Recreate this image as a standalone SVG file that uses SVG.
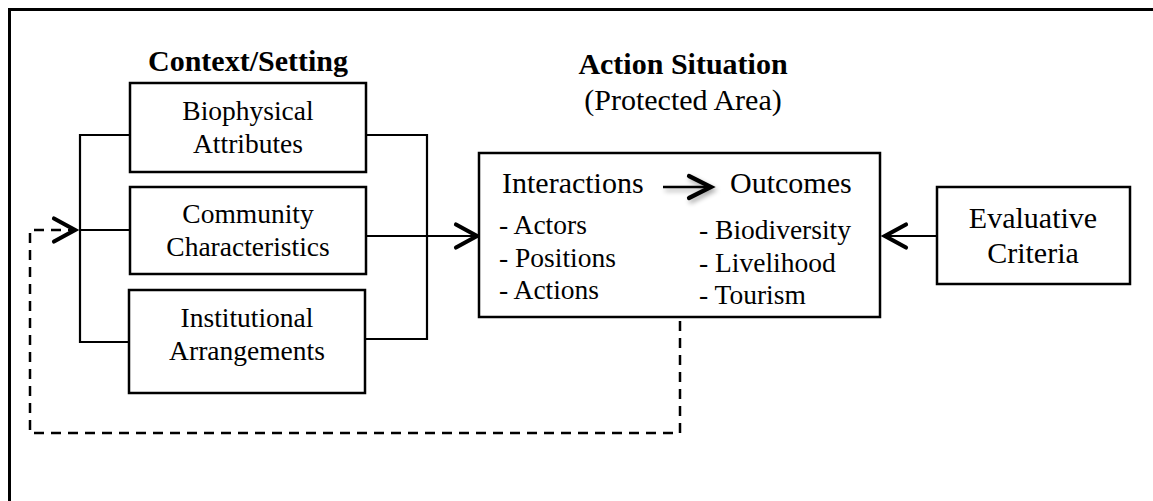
<svg xmlns="http://www.w3.org/2000/svg" width="1153" height="501" viewBox="0 0 1153 501">
<style>
.box{fill:#fff;stroke:#000;stroke-width:2.5}
.ln{fill:none;stroke:#000;stroke-width:2.2}
.dash{fill:none;stroke:#000;stroke-width:2.5;stroke-dasharray:10 7}
.t{font-family:"Liberation Serif","Times New Roman",serif;fill:#000}
.m{font-size:27.5px;text-anchor:middle}
.h{font-size:30px;font-weight:bold;text-anchor:middle}
.a{font-size:30px}
.l{font-size:27.5px}
</style>
<defs>
<marker id="arr" markerUnits="userSpaceOnUse" markerWidth="34" markerHeight="34" viewBox="-28 -17 34 34" refX="0" refY="0" orient="auto">
<path d="M -21 -11.5 L 0 0 L -21 11.5" fill="none" stroke="#000" stroke-width="4.2" stroke-linecap="round" stroke-linejoin="miter"/>
</marker>
<filter id="sh" x="-30%" y="-60%" width="160%" height="220%">
<feGaussianBlur in="SourceAlpha" stdDeviation="2.5"/>
<feOffset dx="2" dy="3" result="b"/>
<feComponentTransfer><feFuncA type="linear" slope="0.35"/></feComponentTransfer>
<feMerge><feMergeNode/><feMergeNode in="SourceGraphic"/></feMerge>
</filter>
</defs>
<rect width="1153" height="501" fill="#fff"/>
<path d="M 9.5 501 V 9.5 H 1153" fill="none" stroke="#000" stroke-width="3"/>

<text class="t h" x="248" y="71">Context/Setting</text>
<text class="t h" x="683" y="74">Action Situation</text>
<text class="t a" x="683" y="110" text-anchor="middle">(Protected Area)</text>

<g id="connectors">
<path class="ln" d="M 130 135 H 80 V 342 H 129 M 80 230 H 130"/>
<path class="ln" d="M 366 135 H 427 V 339 H 365 M 366 236 H 427"/>
<path class="ln" d="M 427 236 H 477" marker-end="url(#arr)"/>
<path class="ln" d="M 937 236 H 885" marker-end="url(#arr)"/>
<path class="dash" d="M 680 321 V 433 H 30 V 230 H 75" marker-end="url(#arr)"/>
</g>

<g id="biophysical">
<rect class="box" x="130" y="83" width="236" height="89"/>
<text class="t m" x="248" y="120">Biophysical</text>
<text class="t m" x="248" y="153">Attributes</text>
</g>
<g id="community">
<rect class="box" x="130" y="187" width="236" height="87"/>
<text class="t m" x="248" y="223">Community</text>
<text class="t m" x="248" y="256">Characteristics</text>
</g>
<g id="institutional">
<rect class="box" x="129" y="290" width="236" height="103"/>
<text class="t m" x="247" y="327">Institutional</text>
<text class="t m" x="247" y="360">Arrangements</text>
</g>
<g id="action">
<rect class="box" x="479" y="153" width="401" height="164"/>
<text class="t a" x="502" y="193">Interactions</text>
<text class="t a" x="730" y="193">Outcomes</text>
<g filter="url(#sh)">
<path d="M 663 187 H 710" fill="none" stroke="#000" stroke-width="2.5"/>
<path d="M 689 176 L 711 187 L 689 198" fill="none" stroke="#000" stroke-width="4.2" stroke-linecap="round"/>
</g>
<text class="t l" x="499" y="234">- Actors</text>
<text class="t l" x="499" y="267">- Positions</text>
<text class="t l" x="499" y="299">- Actions</text>
<text class="t l" x="699" y="239">- Biodiversity</text>
<text class="t l" x="699" y="272">- Livelihood</text>
<text class="t l" x="699" y="304">- Tourism</text>
</g>
<g id="evaluative">
<rect class="box" x="937" y="187" width="193" height="97"/>
<text class="t a" x="1033" y="228" text-anchor="middle">Evaluative</text>
<text class="t a" x="1033" y="263" text-anchor="middle">Criteria</text>
</g>
</svg>
